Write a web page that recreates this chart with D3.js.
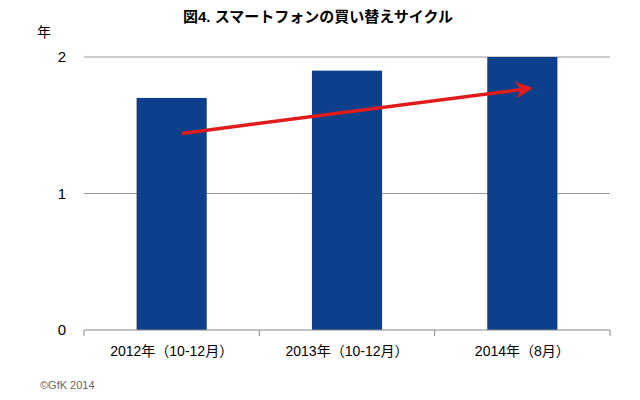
<!doctype html>
<html lang="ja">
<head>
<meta charset="utf-8">
<script src="https://cdn.jsdelivr.net/npm/d3@7"></script>
<style>
  body { margin: 0; background: #fff; }
  text { font-family: "Liberation Sans", "Noto Sans CJK JP", sans-serif; }
</style>
</head>
<body>
<svg id="chart" width="640" height="400"></svg>
<script>
var categories = ["2012年（10-12月）", "2013年（10-12月）", "2014年（8月）"];
var values = [1.7, 1.9, 2.0];
var yTicks = [0, 1, 2];
var trendFrom = 1.44, trendTo = 1.77;

var svg = d3.select("#chart");
var plotLeft = 84, plotRight = 610, plotTop = 57, plotBottom = 330;

var x = d3.scaleBand().domain(categories).range([plotLeft, plotRight]).paddingInner(0.6).paddingOuter(0.3);
var y = d3.scaleLinear().domain([0, 2]).range([plotBottom, plotTop]);

// grid
svg.selectAll("line.grid").data(yTicks.slice(1)).enter().append("line")
  .attr("x1", plotLeft).attr("x2", plotRight)
  .attr("y1", d => y(d)).attr("y2", d => y(d))
  .attr("stroke", "#999").attr("stroke-width", 1);

// bars
svg.selectAll("rect.bar").data(values).enter().append("rect")
  .attr("x", (d, i) => x(categories[i]))
  .attr("width", x.bandwidth())
  .attr("y", d => y(d))
  .attr("height", d => plotBottom - y(d))
  .attr("fill", "#0d3f8a");

// x axis
svg.append("line").attr("x1", plotLeft).attr("x2", plotRight)
  .attr("y1", plotBottom).attr("y2", plotBottom).attr("stroke", "#888");
var step = (plotRight - plotLeft) / categories.length;
d3.range(categories.length + 1).forEach(function (i) {
  svg.append("line").attr("x1", plotLeft + i * step).attr("x2", plotLeft + i * step)
    .attr("y1", plotBottom).attr("y2", plotBottom + 6).attr("stroke", "#888");
});
svg.selectAll("text.xl").data(categories).enter().append("text")
  .attr("x", d => x(d) + x.bandwidth() / 2).attr("y", plotBottom + 26)
  .attr("text-anchor", "middle").attr("font-size", 14).attr("fill", "#000")
  .text(d => d);

// y labels
svg.selectAll("text.yl").data(yTicks).enter().append("text")
  .attr("x", 66).attr("y", d => y(d) + 5)
  .attr("text-anchor", "end").attr("font-size", 15).text(d => d);
svg.append("text").attr("x", 44).attr("y", 37).attr("text-anchor", "middle")
  .attr("font-size", 14).text("年");

// title
svg.append("text").attr("x", 318).attr("y", 22).attr("text-anchor", "middle")
  .attr("font-size", 15).attr("font-weight", "bold").text("図4. スマートフォンの買い替えサイクル");

// trend arrow
var defs = svg.append("defs");
defs.append("marker").attr("id", "ah").attr("viewBox", "0 0 10 10")
  .attr("refX", 8).attr("refY", 5).attr("markerWidth", 5).attr("markerHeight", 5)
  .attr("orient", "auto").attr("markerUnits", "strokeWidth")
  .append("path").attr("d", "M0,0 L10,5 L0,10 L3,5 Z").attr("fill", "#e01b1b");
var ax0 = x(categories[0]) + x.bandwidth() / 2 + 10;
var ax1 = x(categories[2]) + x.bandwidth() / 2 + 7;
svg.append("line").attr("x1", ax0).attr("y1", y(trendFrom))
  .attr("x2", ax1).attr("y2", y(trendTo))
  .attr("stroke", "#e01b1b").attr("stroke-width", 3.5).attr("marker-end", "url(#ah)");

// footer
svg.append("text").attr("x", 40).attr("y", 389).attr("font-size", 11)
  .attr("fill", "#666").text("©GfK  2014");
</script>
</body>
</html>
